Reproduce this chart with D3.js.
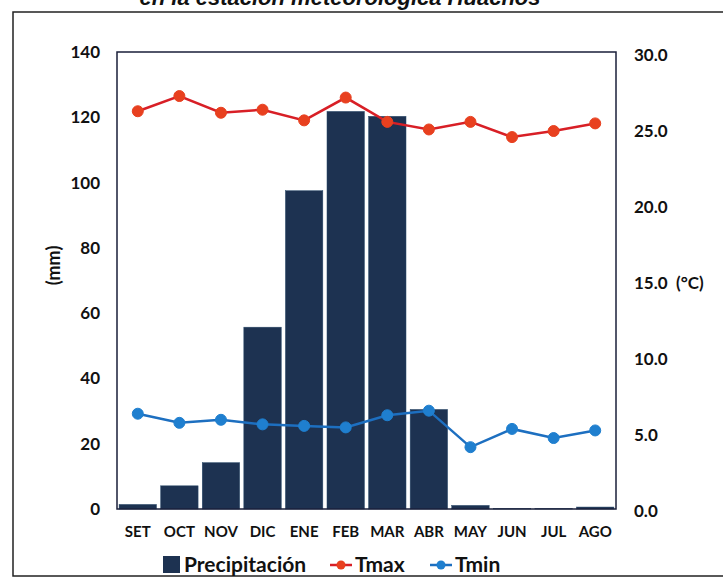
<!DOCTYPE html>
<html>
<head>
<meta charset="utf-8">
<script src="https://cdn.jsdelivr.net/npm/d3@7"></script>
<style>
  body { margin: 0; background: #fff; }
  svg { display: block; }
</style>
</head>
<body>
<div id="chart"></div>
<script>
var months = ["SET", "OCT", "NOV", "DIC", "ENE", "FEB", "MAR", "ABR", "MAY", "JUN", "JUL", "AGO"];
var precip = [1.4, 7.1, 14.2, 55.7, 97.5, 121.8, 120.3, 30.5, 1.1, 0.1, 0.1, 0.6];
var tmax = [26.3, 27.3, 26.2, 26.4, 25.7, 27.2, 25.6, 25.1, 25.6, 24.6, 25.0, 25.5];
var tmin = [6.4, 5.8, 6.0, 5.7, 5.6, 5.5, 6.3, 6.6, 4.2, 5.4, 4.8, 5.3];
var leftTicks = [0, 20, 40, 60, 80, 100, 120, 140];
var rightTicks = [0, 5, 10, 15, 20, 25, 30];

var W = 723, H = 578;
// plot area
var margin = {top: 52, right: 107, bottom: 69, left: 117};
var width = W - margin.left - margin.right,
    height = H - margin.top - margin.bottom;

var svg = d3.select("#chart").append("svg")
    .attr("width", W)
    .attr("height", H);

// title, cut off at the top of the picture like in the scan
svg.append("text")
    .attr("x", 340)
    .attr("y", 5)
    .attr("text-anchor", "middle")
    .style("font-family", "Liberation Sans, Arial, sans-serif")
    .style("font-weight", "bold")
    .style("font-style", "italic")
    .style("font-size", "22px")
    .style("fill", "#111")
    .text("en la estación meteorológica Huachos");

// outer frame
svg.append("rect")
    .attr("x", 13).attr("y", 12)
    .attr("width", W).attr("height", 564)
    .style("fill", "none")
    .style("stroke", "#222")
    .style("stroke-width", 1.5);

var g = svg.append("g")
    .attr("transform", "translate(" + margin.left + "," + margin.top + ")");

var x = d3.scaleBand()
    .domain(months)
    .range([0, width])
    .paddingInner(0.1)
    .paddingOuter(0.05);

var y = d3.scaleLinear().domain([0, 140]).range([height, 0]);
var y2 = d3.scaleLinear().domain([0, 30]).range([height + 2, 3]);

var font = "Lato, 'Open Sans', sans-serif";

// left axis
var yAxis = d3.axisLeft(y).tickValues(leftTicks).tickSize(0).tickPadding(17);
var gy = g.append("g").call(yAxis);
gy.select(".domain").remove();
gy.selectAll("text")
    .style("font-family", font)
    .style("font-weight", "bold")
    .style("font-size", "17px")
    .style("fill", "#111");

// right axis
var yAxis2 = d3.axisRight(y2).tickValues(rightTicks).tickSize(0).tickPadding(18)
    .tickFormat(d3.format(".1f"));
var gy2 = g.append("g").attr("transform", "translate(" + width + ",0)").call(yAxis2);
gy2.select(".domain").remove();
gy2.selectAll("text")
    .style("font-family", font)
    .style("font-weight", "bold")
    .style("font-size", "17px")
    .style("fill", "#111");

// x axis
var xAxis = d3.axisBottom(x).tickSize(0).tickPadding(17);
var gx = g.append("g").attr("transform", "translate(0," + height + ")").call(xAxis);
gx.select(".domain").remove();
gx.selectAll("text")
    .style("font-family", font)
    .style("font-weight", "bold")
    .style("font-size", "15px")
    .style("fill", "#111");

// axis titles
g.append("text")
    .attr("transform", "translate(-57," + (height / 2 - 15) + ") rotate(-90)")
    .attr("text-anchor", "middle")
    .style("font-family", font)
    .style("font-weight", "bold")
    .style("font-size", "18px")
    .style("fill", "#111")
    .text("(mm)");

g.append("text")
    .attr("x", width + 60)
    .attr("y", y2(15) + 6)
    .style("font-family", font)
    .style("font-weight", "bold")
    .style("font-size", "17px")
    .style("fill", "#111")
    .text("(°C)");

// bars
g.selectAll(".bar")
    .data(precip)
    .enter()
    .append("rect")
    .attr("class", "bar")
    .attr("x", function (d, i) { return x(months[i]); })
    .attr("width", x.bandwidth())
    .attr("y", function (d) { return y(d); })
    .attr("height", function (d) { return height - y(d); })
    .style("fill", "#1d3251")
    .style("stroke", "#2a4a6a")
    .style("stroke-width", 0.5);

// plot frame
g.append("rect")
    .attr("width", width)
    .attr("height", height)
    .style("fill", "none")
    .style("stroke", "#1a1f3a")
    .style("stroke-width", 1.5);

function drawSeries(vals, lineColor, dotColor) {
    var line = d3.line()
        .x(function (d, i) { return x(months[i]) + x.bandwidth() / 2; })
        .y(function (d) { return y2(d); });
    g.append("path")
        .datum(vals)
        .attr("d", line)
        .style("fill", "none")
        .style("stroke", lineColor)
        .style("stroke-width", 2.5);
    g.selectAll(null)
        .data(vals)
        .enter()
        .append("circle")
        .attr("cx", function (d, i) { return x(months[i]) + x.bandwidth() / 2; })
        .attr("cy", function (d) { return y2(d); })
        .attr("r", 5.5)
        .style("fill", dotColor)
        .style("stroke", dotColor)
        .style("stroke-width", 1);
}

drawSeries(tmax, "#d81f26", "#e8401f");
drawSeries(tmin, "#1d6fc0", "#1f7fcf");

// legend
var lg = svg.append("g").attr("transform", "translate(0,565)");
lg.append("rect")
    .attr("x", 163).attr("y", -9)
    .attr("width", 17).attr("height", 17)
    .style("fill", "#1d3251");
lg.append("text")
    .attr("x", 184).attr("y", 7)
    .style("font-family", font)
    .style("font-weight", "bold")
    .style("font-size", "21px")
    .style("fill", "#111")
    .text("Precipitación");

var legItems = [
    {name: "Tmax", x: 330, line: "#d81f26", dot: "#e8401f"},
    {name: "Tmin", x: 430, line: "#1d6fc0", dot: "#1f7fcf"}
];
legItems.forEach(function (d) {
    lg.append("line")
        .attr("x1", d.x).attr("x2", d.x + 22)
        .attr("y1", 0).attr("y2", 0)
        .style("stroke", d.line)
        .style("stroke-width", 2.5);
    lg.append("circle")
        .attr("cx", d.x + 11).attr("cy", 0).attr("r", 4.5)
        .style("fill", d.dot);
    lg.append("text")
        .attr("x", d.x + 25).attr("y", 7)
        .style("font-family", font)
        .style("font-weight", "bold")
        .style("font-size", "21px")
        .style("fill", "#111")
        .text(d.name);
});
</script>
</body>
</html>
